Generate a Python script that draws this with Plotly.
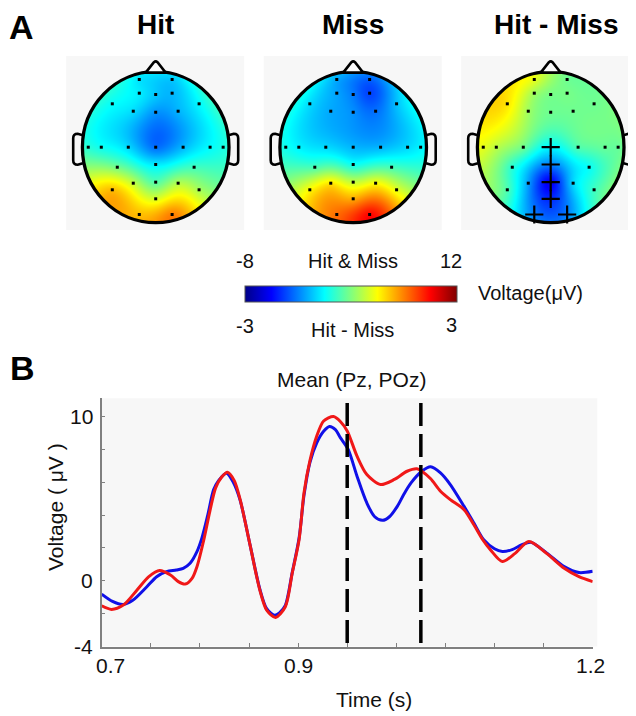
import numpy as np
import plotly.graph_objects as go

# ---------------- Panel A data ----------------
electrode_names = ["Fp1", "Fp2", "F3", "Fz", "F4", "F7", "FC3", "FCz", "FC4", "F8",
                   "T7", "C5", "C3", "Cz", "C4", "C6", "T8", "CP3", "CPz", "CP4",
                   "P7", "P3", "Pz", "P4", "P8", "POz", "O1", "O2"]
electrode_x = [-0.224, 0.224, -0.224, 0.0, 0.224, -0.592, -0.306, 0.0, 0.306, 0.592,
               -0.92, -0.742, -0.374, 0.0, 0.374, 0.742, 0.92, -0.524, 0.0, 0.524,
               -0.592, -0.306, 0.0, 0.306, 0.592, 0.0, -0.224, 0.224]
electrode_y = [0.924, 0.924, 0.737, 0.719, 0.737, 0.592, 0.491, 0.477, 0.491, 0.592,
               0.0, 0.0, 0.0, 0.0, 0.0, 0.0, 0.0, -0.273, -0.236, -0.273,
               -0.581, -0.491, -0.477, -0.491, -0.581, -0.704, -0.918, -0.918]

hit_uv = [-1.0, -1.6, -0.8, -1.6, -1.9, -0.4, -1.2, -2.6, -2.0, -0.6,
          0.3, -0.2, -1.2, -3.3, -1.9, -0.5, 0.0, 1.8, -0.8, 0.8,
          5.8, 3.4, 1.2, 3.0, 2.8, 3.8, 5.8, 7.0]
miss_uv = [-2.2, -3.6, -2.3, -3.1, -4.2, -1.2, -2.2, -2.7, -3.3, -1.7,
           -0.2, -0.7, -1.2, -1.9, -1.9, -1.2, -0.7, 1.0, -0.2, 0.9,
           4.6, 5.0, 3.4, 4.5, 4.0, 6.2, 7.4, 9.4]
diff_uv = [0.6, -0.1, 0.2, -0.05, -0.05, 0.9, 0.2, -0.1, -0.1, -0.1,
           0.6, 0.35, -0.1, -0.8, -0.3, -0.15, -0.15, -0.5, -1.5, -0.7,
           -0.3, -1.3, -2.3, -1.0, -0.4, -2.0, -1.5, -1.5]
sig_electrodes = ["Cz", "CPz", "Pz", "POz", "O1", "O2"]

map_titles = ["Hit", "Miss", "Hit - Miss"]
map_ranges = [(-8, 12), (-8, 12), (-3, 3)]
cbar_top_labels = ["-8", "Hit & Miss", "12"]
cbar_bottom_labels = ["-3", "Hit - Miss", "3"]
cbar_side_label = "Voltage(μV)"

# ---------------- Panel B data ----------------
hit_time = [0.700, 0.711, 0.722, 0.732, 0.746, 0.756, 0.766, 0.776, 0.783, 0.790,
            0.797, 0.802, 0.808, 0.814, 0.819, 0.827, 0.834, 0.841, 0.851, 0.861,
            0.868, 0.876, 0.881, 0.887, 0.894, 0.901, 0.906, 0.912, 0.919, 0.926,
            0.932, 0.938, 0.943, 0.951, 0.960, 0.970, 0.978, 0.986, 0.993, 1.001,
            1.008, 1.015, 1.026, 1.035, 1.045, 1.055, 1.069, 1.079, 1.089, 1.100,
            1.108, 1.118, 1.128, 1.137, 1.153, 1.171, 1.186, 1.200]
hit_uv_ts = [-0.81, -1.25, -1.44, -1.17, -0.36, 0.25, 0.56, 0.66, 0.76, 1.07,
             1.78, 2.6, 4.0, 5.55, 6.1, 6.55, 6.0, 4.9, 2.2, -0.5,
             -1.7, -2.1, -1.95, -1.5, 0.5, 2.6, 5.2, 7.2, 8.4, 9.1,
             9.39, 9.2, 8.72, 8.0, 6.37, 4.74, 3.9, 3.68, 3.9, 4.53,
             5.3, 5.96, 6.67, 6.94, 6.57, 5.86, 4.53, 3.52, 2.5, 1.95,
             1.78, 1.9, 2.2, 2.35, 1.7, 0.86, 0.5, 0.58]
miss_time = [0.700, 0.710, 0.722, 0.736, 0.748, 0.759, 0.770, 0.778, 0.785, 0.792,
             0.797, 0.804, 0.810, 0.816, 0.822, 0.828, 0.835, 0.841, 0.851, 0.861,
             0.868, 0.877, 0.887, 0.894, 0.901, 0.906, 0.912, 0.919, 0.926, 0.936,
             0.943, 0.950, 0.960, 0.970, 0.984, 0.998, 1.011, 1.021, 1.026, 1.035,
             1.045, 1.055, 1.069, 1.079, 1.088, 1.096, 1.108, 1.121, 1.135, 1.153,
             1.171, 1.186, 1.200]
miss_uv_ts = [-1.52, -1.74, -1.48, -0.56, 0.25, 0.62, 0.35, -0.05, -0.2, 0.15,
              0.86, 2.5, 4.2, 5.66, 6.3, 6.61, 6.1, 4.94, 2.2, -0.56,
              -1.79, -2.23, -1.58, 0.46, 2.5, 5.35, 7.3, 8.81, 9.73, 10.0,
              9.7, 9.12, 7.59, 6.47, 5.86, 6.17, 6.67, 6.82, 6.67, 6.21,
              5.45, 4.94, 4.33, 3.41, 2.5, 1.88, 1.17, 1.67, 2.39, 1.67,
              0.76, 0.25, -0.05]
window_bounds = [0.95, 1.025]
x_tick_labels = ["0.7", "0.9", "1.2"]
x_tick_values = [0.7, 0.9, 1.2]
y_tick_labels = ["10", "0", "-4"]
y_tick_values = [10, 0, -4]

# ---------------- helpers ----------------
W, H = 636, 716
OFF = 8  # page body margin: screen pixel = figure pixel + 8
FONT = "Arial, Liberation Sans, sans-serif"
JET = [[0, "rgb(0,0,135)"], [0.125, "rgb(0,0,255)"], [0.375, "rgb(0,255,255)"],
       [0.625, "rgb(255,255,0)"], [0.875, "rgb(255,0,0)"], [1, "rgb(128,0,0)"]]


def px(x):
    return (x - OFF) / W


def py(y):
    return 1 - (y - OFF) / H


def biharmonic(xs, ys, vals, qx, qy):
    P = np.array(xs) + 1j * np.array(ys)
    d = np.abs(P[:, None] - P[None, :])
    with np.errstate(divide="ignore", invalid="ignore"):
        G = np.where(d > 0, d ** 2 * (np.log(d) - 1), 0.0)
    w = np.linalg.solve(G, np.array(vals, dtype=float))
    Q = qx + 1j * qy
    dq = np.abs(Q[..., None] - P)
    with np.errstate(divide="ignore", invalid="ignore"):
        Gq = np.where(dq > 0, dq ** 2 * (np.log(dq) - 1), 0.0)
    return Gq @ w


fig = go.Figure()
shapes = []
annotations = []

head_cx = [155.7, 353.2, 550.7]
head_cy = 147.2
RX, RY = 73.3, 75.5
SCALE = 73.3
BG = "#f7f7f7"

gx = np.arange(-75, 76)
gy = np.arange(-77, 78)
GX, GY = np.meshgrid(gx, gy)
inside = (GX / RX) ** 2 + (GY / RY) ** 2 <= 1.0

for i, (vals, (zmin, zmax)) in enumerate(zip([hit_uv, miss_uv, diff_uv], map_ranges)):
    cx = head_cx[i]
    cy = head_cy
    Z = biharmonic(electrode_x, electrode_y, vals, GX / SCALE, -GY / SCALE)
    Z = np.where(inside, np.round(Z, 2), np.nan)
    trace = dict(
        x=cx + gx, y=cy + gy, z=Z, colorscale=JET, zmin=zmin, zmax=zmax,
        xaxis="x", yaxis="y", hoverinfo="skip", showscale=(i == 0),
    )
    if i == 0:
        trace["colorbar"] = dict(
            orientation="h", x=px(351), xanchor="center", y=py(286), yanchor="top",
            len=212, lenmode="pixels", thickness=16, thicknessmode="pixels",
            xpad=0, ypad=0, outlinewidth=1, outlinecolor="#555",
            showticklabels=False, ticks="",
        )
    fig.add_trace(go.Heatmap(**trace))

    shapes.append(dict(type="rect", xref="x", yref="y", x0=cx - 89.5, x1=cx + 88.5,
                       y0=56, y1=230, fillcolor=BG, line=dict(width=0), layer="below"))
    shapes.append(dict(type="circle", xref="x", yref="y", x0=cx - RX, x1=cx + RX,
                       y0=cy - RY, y1=cy + RY,
                       line=dict(color="black", width=3.3), layer="above"))
    shapes.append(dict(type="path", xref="x", yref="y",
                       path=(f"M {cx-10},{cy-74.6} L {cx-1.8},{cy-85} Q {cx},{cy-86.5} {cx+1.8},{cy-85} "
                             f"L {cx+10},{cy-74.6} Z"),
                       fillcolor="#fbfbfb", line=dict(color="black", width=2.6), layer="above"))
    for s in (-1, 1):
        shapes.append(dict(type="path", xref="x", yref="y",
                           path=(f"M {cx+s*72.8},{cy-12} L {cx+s*78},{cy-13.5} "
                                 f"Q {cx+s*82.5},{cy-13.5} {cx+s*82.5},{cy-9} "
                                 f"L {cx+s*82.5},{cy+13} Q {cx+s*82.5},{cy+17.5} {cx+s*78},{cy+17.5} "
                                 f"L {cx+s*72.8},{cy+16}"),
                           line=dict(color="black", width=2.6), layer="above"))

    is_sig = [(i == 2 and n in sig_electrodes) for n in electrode_names]
    ex = [cx + x * SCALE for x, sg in zip(electrode_x, is_sig) if not sg]
    ey = [cy - y * SCALE for y, sg in zip(electrode_y, is_sig) if not sg]
    fig.add_trace(go.Scatter(x=ex, y=ey, mode="markers", xaxis="x", yaxis="y",
                             marker=dict(symbol="square", size=3, color="black", line=dict(width=0)),
                             hoverinfo="skip", showlegend=False))
    if any(is_sig):
        sx = [cx + x * SCALE for x, sg in zip(electrode_x, is_sig) if sg]
        sy = [cy - y * SCALE for y, sg in zip(electrode_y, is_sig) if sg]
        fig.add_trace(go.Scatter(x=sx, y=sy, mode="markers", xaxis="x", yaxis="y",
                                 marker=dict(symbol="cross-thin", size=13, color="black",
                                             line=dict(width=2.2, color="black")),
                                 hoverinfo="skip", showlegend=False))

    annotations.append(dict(text=f"<b>{map_titles[i]}</b>", x=px(cx if i < 2 else 556), y=py(25),
                            xref="paper", yref="paper", showarrow=False, xanchor="center",
                            yanchor="middle", font=dict(size=28, color="black", family=FONT)))

annotations.append(dict(text="<b>A</b>", x=px(8), y=py(27), xref="paper", yref="paper",
                        showarrow=False, xanchor="left", yanchor="middle", borderpad=0,
                        font=dict(size=34, color="black", family=FONT)))
annotations.append(dict(text="<b>B</b>", x=px(8), y=py(368), xref="paper", yref="paper",
                        showarrow=False, xanchor="left", yanchor="middle",
                        font=dict(size=34, color="black", family=FONT)))

for lab, xx in zip(cbar_top_labels, [245, 353, 451]):
    annotations.append(dict(text=lab, x=px(xx), y=py(261), xref="paper", yref="paper",
                            showarrow=False, xanchor="center", yanchor="middle",
                            font=dict(size=20, color="#111", family=FONT)))
for lab, xx, yy in zip(cbar_bottom_labels, [245, 352, 451.5], [326, 330, 325]):
    annotations.append(dict(text=lab, x=px(xx), y=py(yy), xref="paper", yref="paper",
                            showarrow=False, xanchor="center", yanchor="middle",
                            font=dict(size=20, color="#111", family=FONT)))
annotations.append(dict(text=cbar_side_label, x=px(476), y=py(293), xref="paper", yref="paper",
                        showarrow=False, xanchor="left", yanchor="middle",
                        font=dict(size=20, color="#111", family=FONT)))

# ---------------- Panel B ----------------
PL, PR, PT, PB = 101.7, 592.7, 398.3, 646.5
y_top = -4 + (PB - PT) / ((PB - 580.8) / 4)

shapes.append(dict(type="rect", xref="x", yref="y", x0=PL, x1=597.3, y0=PT, y1=PB,
                   fillcolor=BG, line=dict(width=0), layer="below"))

fig.add_trace(go.Scatter(x=hit_time, y=hit_uv_ts, mode="lines", xaxis="x2", yaxis="y2",
                         line=dict(color="#1010e8", width=3, shape="spline", smoothing=0.8),
                         hoverinfo="skip", showlegend=False, name="Hit"))
fig.add_trace(go.Scatter(x=miss_time, y=miss_uv_ts, mode="lines", xaxis="x2", yaxis="y2",
                         line=dict(color="#f01818", width=3, shape="spline", smoothing=0.8),
                         hoverinfo="skip", showlegend=False, name="Miss"))

for t in window_bounds:
    shapes.append(dict(type="line", xref="x2", yref="y", x0=t, x1=t, y0=403, y1=648,
                       line=dict(color="black", width=3.5, dash="23px,8px"), layer="above"))

annotations.append(dict(text="Mean (Pz, POz)", x=px(351), y=py(379), xref="paper", yref="paper",
                        showarrow=False, xanchor="center", yanchor="middle",
                        font=dict(size=21, color="#111", family=FONT)))
for lab, v in zip(y_tick_labels, y_tick_values):
    annotations.append(dict(text=lab, x=px(95), y=v, xref="paper", yref="y2",
                            showarrow=False, xanchor="right", yanchor="middle",
                            font=dict(size=21, color="#111", family=FONT)))
for lab, v, sh in zip(x_tick_labels, x_tick_values, [9, 0, -2]):
    annotations.append(dict(text=lab, x=v, y=py(665), xref="x2", yref="paper", xshift=sh,
                            showarrow=False, xanchor="center", yanchor="middle",
                            font=dict(size=21, color="#111", family=FONT)))
annotations.append(dict(text="Voltage ( μV )", x=px(55), y=py(507), xref="paper", yref="paper",
                        showarrow=False, xanchor="center", yanchor="middle", textangle=-90,
                        font=dict(size=21, color="#111", family=FONT)))
annotations.append(dict(text="Time (s)", x=px(374), y=py(699), xref="paper", yref="paper",
                        showarrow=False, xanchor="center", yanchor="middle",
                        font=dict(size=21, color="#111", family=FONT)))

axis_common = dict(showgrid=False, zeroline=False, showticklabels=False, fixedrange=True)
fig.update_layout(
    width=W, height=H, margin=dict(l=0, r=0, t=0, b=0),
    paper_bgcolor="white", plot_bgcolor="rgba(0,0,0,0)",
    showlegend=False,
    xaxis=dict(domain=[0, 1], range=[OFF, W + OFF], visible=False, **axis_common),
    yaxis=dict(domain=[0, 1], range=[H + OFF, OFF], visible=False, **axis_common),
    xaxis2=dict(domain=[px(PL), px(PR)], range=[0.7, 1.2], anchor="y2",
                showline=True, linecolor="#808080", linewidth=1.5,
                ticks="inside", ticklen=4, tickcolor="#808080", tickwidth=1,
                tickvals=[0.7, 0.75, 0.8, 0.85, 0.9, 0.95, 1.0, 1.05, 1.1, 1.15, 1.2],
                **axis_common),
    yaxis2=dict(domain=[py(PB), py(PT)], range=[-4, y_top], anchor="x2",
                showline=True, linecolor="#808080", linewidth=1.5,
                ticks="inside", ticklen=4, tickcolor="#808080", tickwidth=1,
                tickvals=[-4, -2, 0, 2, 4, 6, 8, 10],
                **axis_common),
    shapes=shapes,
    annotations=annotations,
)

fig.write_html("out.html")
